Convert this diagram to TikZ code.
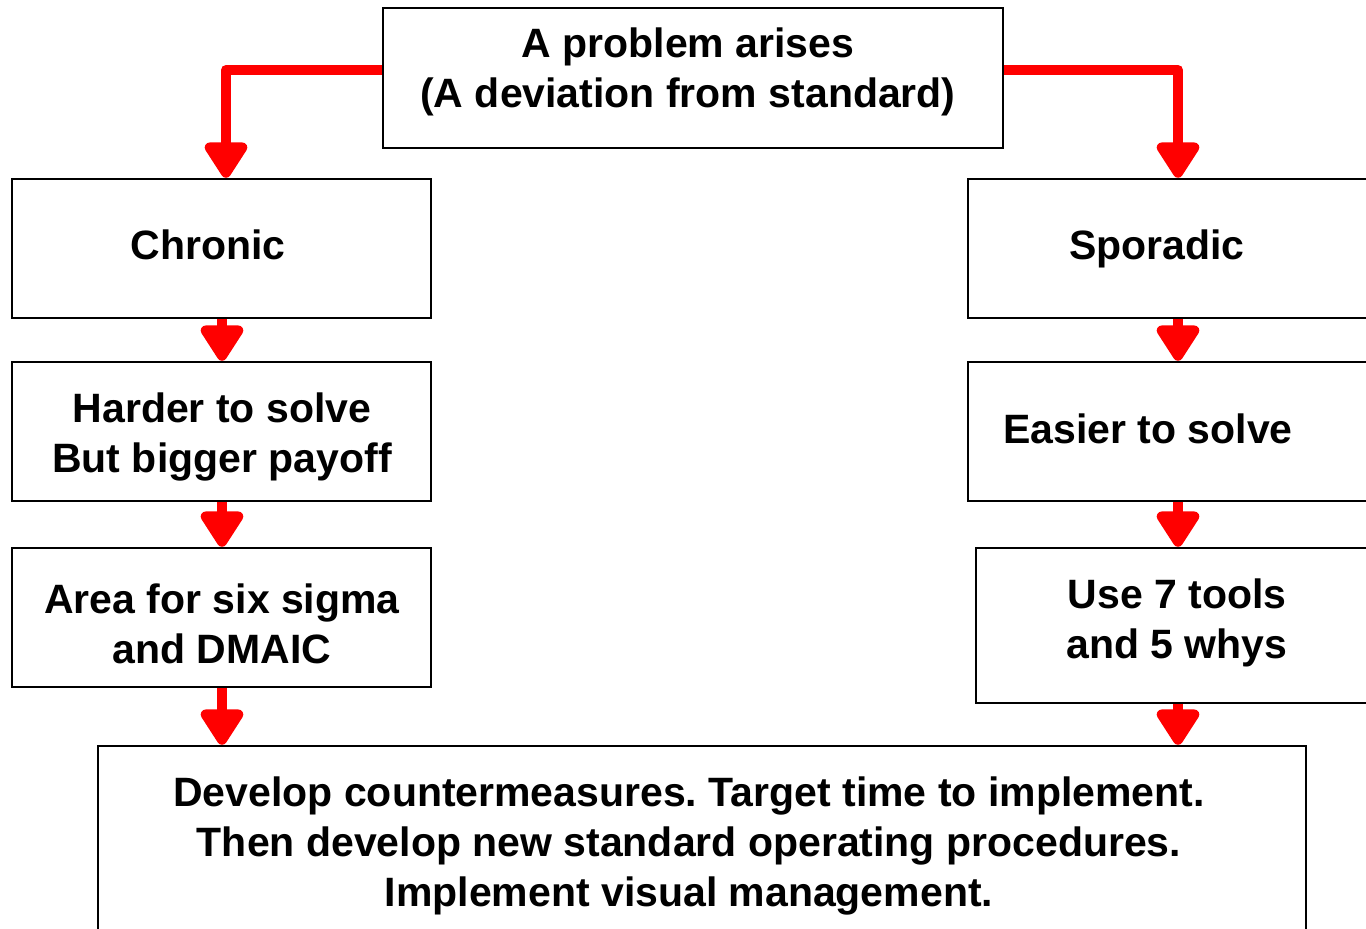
\documentclass[tikz,border=0pt]{standalone}
\usepackage{fontspec}
\setmainfont{Liberation Sans}
\usetikzlibrary{arrows.meta}
\frenchspacing

\begin{document}
\begin{tikzpicture}[x=1pt,y=-1pt,
  box/.style={draw=black, line width=2.5pt, fill=white, inner sep=0pt},
  lbl/.style={font=\fontsize{41}{50}\selectfont\bfseries, align=center, inner sep=0pt},
  flow/.style={draw=red, line width=10pt, line join=round,
               -{Triangle[width=48pt,length=40pt,round]}}]
  \useasboundingbox (0,0) rectangle (1366,929);
  \clip (0,0) rectangle (1366,929);

  % boxes
  \node[box, minimum width=620pt, minimum height=140pt] (top) at (693,78) {};
  \node[box, minimum width=419pt, minimum height=139pt] (chronic) at (221.5,248.5) {};
  \node[box, minimum width=419pt, minimum height=139pt] (harder) at (221.5,431.5) {};
  \node[box, minimum width=419pt, minimum height=139pt] (area) at (221.5,617.5) {};
  \node[box, minimum width=432pt, minimum height=139pt] (sporadic) at (1184,248.5) {};
  \node[box, minimum width=432pt, minimum height=139pt] (easier) at (1184,431.5) {};
  \node[box, minimum width=424pt, minimum height=155pt] (tools) at (1188,625.5) {};
  \node[box, minimum width=1208pt, minimum height=214pt] (bottom) at (702,853) {};

  % labels
  \node[lbl] (ttop) at (688,72) {A problem arises\\(A deviation from standard)};
  \node[lbl] (tchronic) at (208,245) {Chronic};
  \node[lbl] (tharder) at (222,437) {Harder to solve\\But bigger payoff};
  \node[lbl] (tarea) at (222,624) {Area for six sigma\\and DMAIC};
  \node[lbl] (tsporadic) at (1157,249) {Sporadic};
  \node[lbl] (teasier) at (1148,429) {Easier to solve};
  \node[lbl] (ttools) at (1177,623) {Use 7 tools\\and 5 whys};
  \node[lbl] (tbottom) at (689,846) {Develop countermeasures. Target time to implement.\\Then develop new standard operating procedures.\\Implement visual management.};

  % connector columns
  \coordinate (lx) at (222,0);
  \coordinate (lxt) at (226,0);
  \coordinate (rx) at (1178,0);

  % connectors
  \draw[flow] ([yshift=8pt]top.west) -| (chronic.north -| lxt);
  \draw[flow] ([yshift=8pt]top.east) -| (sporadic.north -| rx);
  \draw[flow] (chronic.south -| lx) -- (harder.north -| lx);
  \draw[flow] (harder.south -| lx) -- (area.north -| lx);
  \draw[flow] (area.south -| lx) -- (bottom.north -| lx);
  \draw[flow] (sporadic.south -| rx) -- (easier.north -| rx);
  \draw[flow] (easier.south -| rx) -- (tools.north -| rx);
  \draw[flow] (tools.south -| rx) -- (bottom.north -| rx);
\end{tikzpicture}
\end{document}
